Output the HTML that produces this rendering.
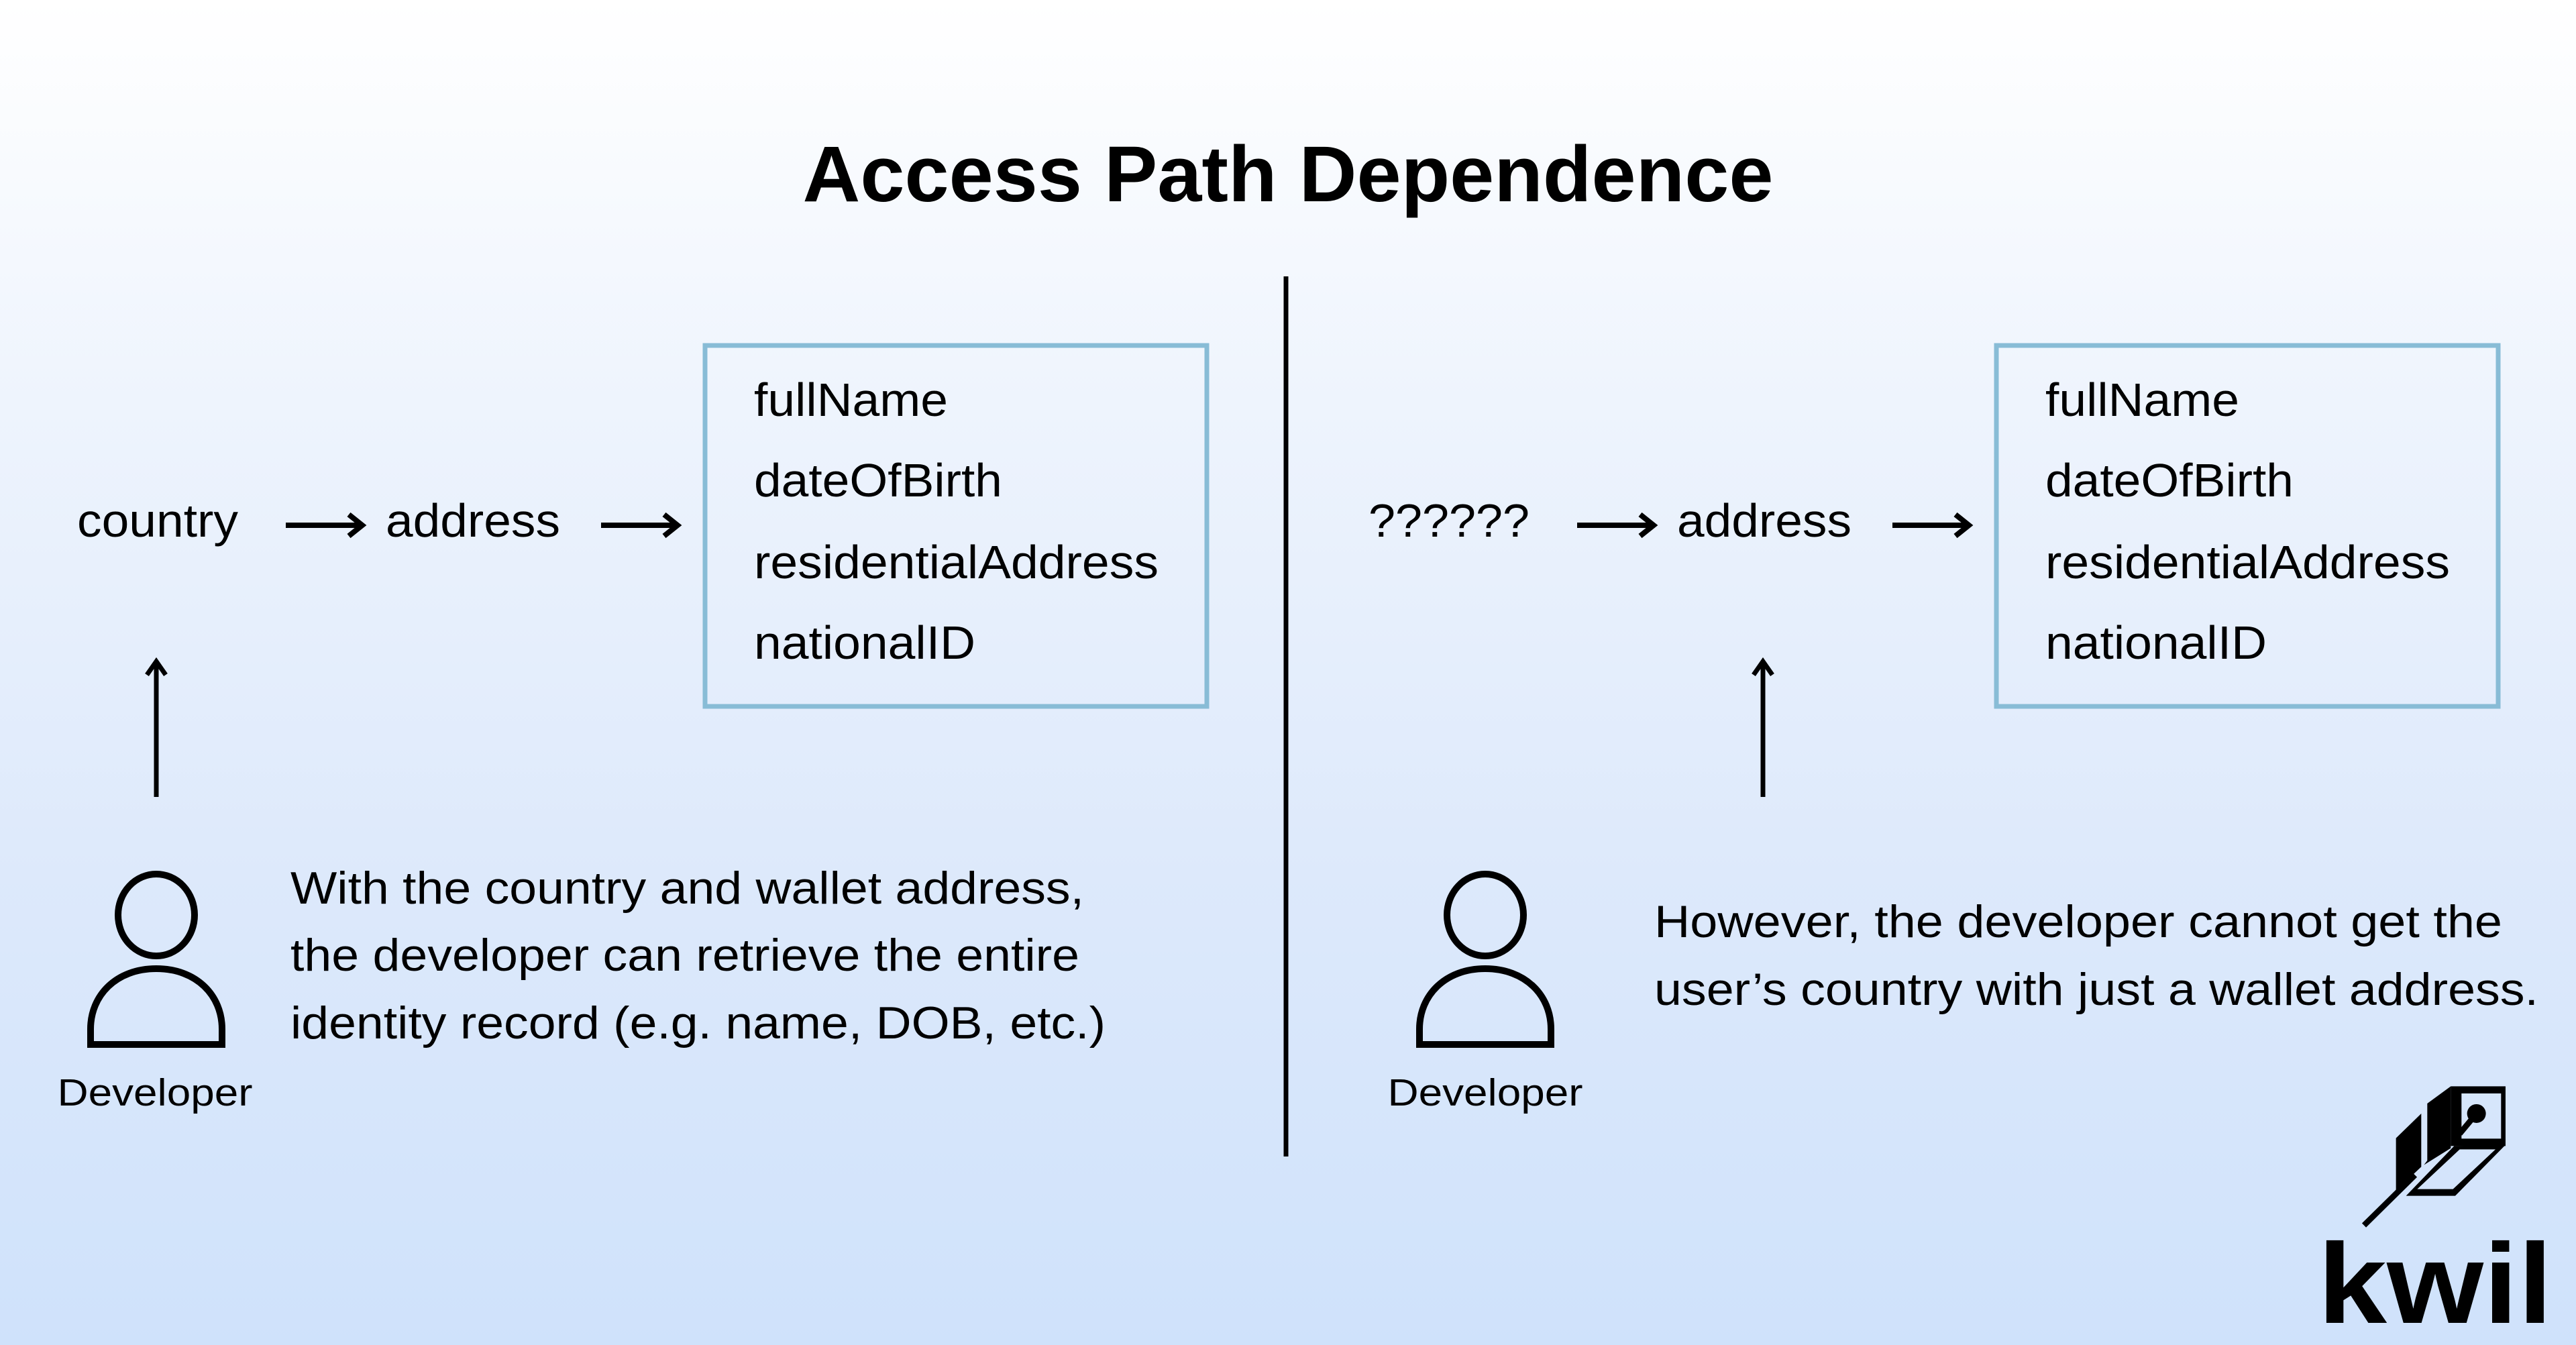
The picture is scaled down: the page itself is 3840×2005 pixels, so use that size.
<!DOCTYPE html>
<html><head><meta charset="utf-8"><style>
html,body{margin:0;padding:0}
body{width:3840px;height:2005px;overflow:hidden;background:linear-gradient(180deg,#ffffff 0%,#eef4fd 30%,#dde9fb 65%,#cfe2fb 100%)}
svg{position:absolute;left:0;top:0}
text{font-family:"Liberation Sans",Arial,sans-serif;fill:#000}
</style></head><body>
<svg width="3840" height="2005" viewBox="0 0 3840 2005">
<defs>
<g id="arr"><line x1="0" y1="0" x2="112" y2="0" stroke="#000" stroke-width="8"/><polyline points="94,-16 114,0 94,16" fill="none" stroke="#000" stroke-width="8" stroke-linejoin="miter"/></g>
<g id="uparr"><line x1="0" y1="0" x2="0" y2="200" stroke="#000" stroke-width="7"/><polyline points="-14,18 0,-2 14,18" fill="none" stroke="#000" stroke-width="7"/></g>
<g id="person" fill="none" stroke="#000" stroke-width="10">
<ellipse cx="0" cy="0" rx="57" ry="61"/>
<path d="M-98,193 L-98,170 C-98,120 -60,80 0,80 C60,80 98,120 98,170 L98,193 Z"/>
</g>
</defs>
<text x="1920" y="300" font-size="118" font-weight="bold" text-anchor="middle" textLength="1447" lengthAdjust="spacingAndGlyphs">Access Path Dependence</text>
<line x1="1917" y1="412" x2="1917" y2="1724" stroke="#000" stroke-width="7"/>

<!-- left -->
<rect x="1051" y="515" width="748" height="538" fill="none" stroke="#88bcd6" stroke-width="7"/>
<g font-size="70">
<text x="1124" y="620" textLength="289" lengthAdjust="spacingAndGlyphs">fullName</text>
<text x="1124" y="740" textLength="370" lengthAdjust="spacingAndGlyphs">dateOfBirth</text>
<text x="1124" y="862" textLength="603" lengthAdjust="spacingAndGlyphs">residentialAddress</text>
<text x="1124" y="982" textLength="330" lengthAdjust="spacingAndGlyphs">nationalID</text>
<text x="115" y="800" textLength="240" lengthAdjust="spacingAndGlyphs">country</text>
<text x="575" y="800" textLength="260" lengthAdjust="spacingAndGlyphs">address</text>
</g>
<use href="#arr" x="426" y="783"/>
<use href="#arr" x="896" y="783"/>
<use href="#uparr" x="233" y="988"/>
<use href="#person" x="233" y="1364"/>
<text x="231" y="1648" font-size="57" text-anchor="middle" textLength="291" lengthAdjust="spacingAndGlyphs">Developer</text>
<g font-size="68">
<text x="433" y="1347" textLength="1183" lengthAdjust="spacingAndGlyphs">With the country and wallet address,</text>
<text x="433" y="1447" textLength="1176" lengthAdjust="spacingAndGlyphs">the developer can retrieve the entire</text>
<text x="433" y="1548" textLength="1215" lengthAdjust="spacingAndGlyphs">identity record (e.g. name, DOB, etc.)</text>
</g>

<!-- right -->
<rect x="2976" y="515" width="748" height="538" fill="none" stroke="#88bcd6" stroke-width="7"/>
<g font-size="70">
<text x="3049" y="620" textLength="289" lengthAdjust="spacingAndGlyphs">fullName</text>
<text x="3049" y="740" textLength="370" lengthAdjust="spacingAndGlyphs">dateOfBirth</text>
<text x="3049" y="862" textLength="603" lengthAdjust="spacingAndGlyphs">residentialAddress</text>
<text x="3049" y="982" textLength="330" lengthAdjust="spacingAndGlyphs">nationalID</text>
<text x="2040" y="800" textLength="240" lengthAdjust="spacingAndGlyphs">??????</text>
<text x="2500" y="800" textLength="260" lengthAdjust="spacingAndGlyphs">address</text>
</g>
<use href="#arr" x="2351" y="783"/>
<use href="#arr" x="2821" y="783"/>
<use href="#uparr" x="2628" y="988"/>
<use href="#person" x="2214" y="1364"/>
<text x="2214" y="1648" font-size="57" text-anchor="middle" textLength="291" lengthAdjust="spacingAndGlyphs">Developer</text>
<g font-size="68">
<text x="2466" y="1397" textLength="1264" lengthAdjust="spacingAndGlyphs">However, the developer cannot get the</text>
<text x="2466" y="1498" textLength="1318" lengthAdjust="spacingAndGlyphs">user’s country with just a wallet address.</text>
</g>

<!-- logo -->
<g transform="translate(3400,1580) scale(0.3333)">
<path fill-rule="evenodd" d="M760,118 L1005,118 L1005,385 L760,385 Z M808,150 L985,150 L985,352 L808,352 Z"/>
<circle cx="875" cy="240" r="42"/>
<line x1="875" y1="240" x2="800" y2="330" stroke="#000" stroke-width="26"/>
<polygon points="515,350 628,240 628,478 515,585"/>
<polygon points="655,195 760,118 760,395 640,470 655,450"/>
<path fill-rule="evenodd" d="M1005,380 L780,608 L560,608 L775,385 Z M960,400 L770,578 L610,578 L800,400 Z"/>
<line x1="372" y1="740" x2="600" y2="515" stroke="#000" stroke-width="26"/>
</g>
<text x="3455" y="1972" font-size="170" font-weight="bold" textLength="350" lengthAdjust="spacingAndGlyphs">kwil</text>
</svg>
</body></html>
